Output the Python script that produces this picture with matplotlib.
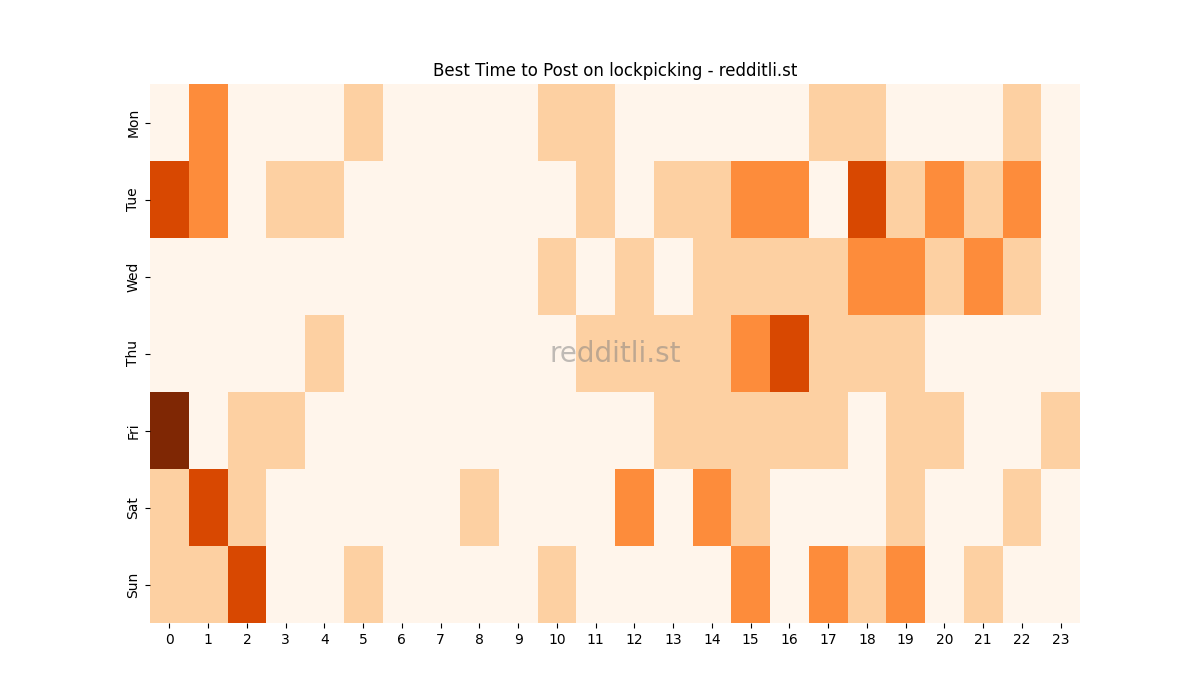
import numpy as np
import matplotlib.pyplot as plt

days = ['Mon', 'Tue', 'Wed', 'Thu', 'Fri', 'Sat', 'Sun']
hours = list(range(24))

mon = [0, 2, 0, 0, 0, 1, 0, 0, 0, 0, 1, 1, 0, 0, 0, 0, 0, 1, 1, 0, 0, 0, 1, 0]
tue = [3, 2, 0, 1, 1, 0, 0, 0, 0, 0, 0, 1, 0, 1, 1, 2, 2, 0, 3, 1, 2, 1, 2, 0]
wed = [0, 0, 0, 0, 0, 0, 0, 0, 0, 0, 1, 0, 1, 0, 1, 1, 1, 1, 2, 2, 1, 2, 1, 0]
thu = [0, 0, 0, 0, 1, 0, 0, 0, 0, 0, 0, 1, 1, 1, 1, 2, 3, 1, 1, 1, 0, 0, 0, 0]
fri = [4, 0, 1, 1, 0, 0, 0, 0, 0, 0, 0, 0, 0, 1, 1, 1, 1, 1, 0, 1, 1, 0, 0, 1]
sat = [1, 3, 1, 0, 0, 0, 0, 0, 1, 0, 0, 0, 2, 0, 2, 1, 0, 0, 0, 1, 0, 0, 1, 0]
sun = [1, 1, 3, 0, 0, 1, 0, 0, 0, 0, 1, 0, 0, 0, 0, 2, 0, 2, 1, 2, 0, 1, 0, 0]

grid = np.array([mon, tue, wed, thu, fri, sat, sun])

fig, ax = plt.subplots(figsize=(12, 7), dpi=100)
ax.pcolormesh(grid, cmap='Oranges', vmin=0, vmax=4)
ax.set_xlim(0, len(hours))
ax.set_ylim(len(days), 0)

ax.set_xticks(np.arange(len(hours)) + 0.5)
ax.set_xticklabels([str(h) for h in hours])
ax.set_yticks(np.arange(len(days)) + 0.5)
ax.set_yticklabels(days, rotation=90, va='center')
for s in ax.spines.values():
    s.set_visible(False)

ax.set_title('Best Time to Post on lockpicking - redditli.st')
ax.text(0.5, 0.5, 'redditli.st', transform=ax.transAxes, fontsize=20,
        color='grey', alpha=0.5, ha='center', va='center')

plt.savefig('out.png')
